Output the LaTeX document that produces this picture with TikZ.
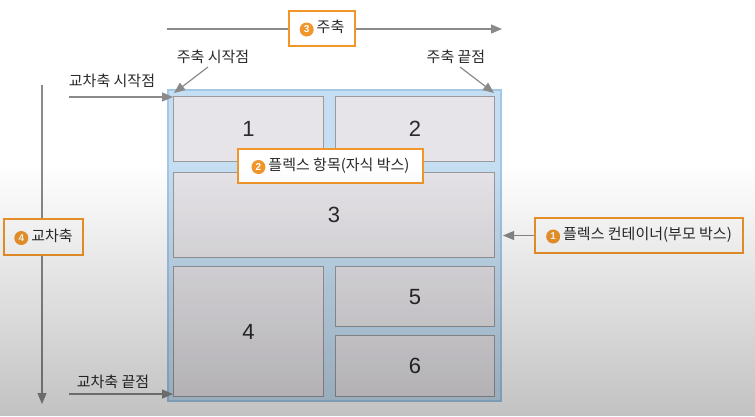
\documentclass[tikz,border=0pt]{standalone}
\usepackage{fontspec}
\setmainfont{Noto Sans CJK KR}
\newfontfamily\numfont{Liberation Sans}
\usetikzlibrary{arrows.meta,fadings}
\definecolor{txt}{HTML}{2A2A2A}
\definecolor{arr}{HTML}{8A8A8A}
\definecolor{org}{HTML}{F0962A}
\definecolor{cfill}{HTML}{C5DEF2}
\definecolor{cedge}{HTML}{A2C8E6}
\definecolor{bfill}{HTML}{E6E4E8}
\definecolor{bedge}{HTML}{9A9A9C}
\tikzfading[name=darkbottom, top color=transparent!100, bottom color=transparent!0]
\newcommand\numdot[1]{\tikz[baseline=(d.base)]\node[circle,fill=org,text=white,inner sep=0pt,minimum size=14pt,font=\fontsize{10}{10}\selectfont\bfseries\numfont](d){#1};\hspace{3pt}}
\tikzset{
  item/.style={draw=bedge, line width=1.1pt, fill=bfill, anchor=north west, inner sep=0pt, text=txt, font=\fontsize{22}{22}\selectfont\numfont},
  lbl/.style={draw=org, line width=1.8pt, fill=white, text=txt, font=\fontsize{15}{15}\selectfont, inner sep=0pt},
  note/.style={text=txt, font=\fontsize{15}{15}\selectfont, inner sep=0pt},
  pt/.style={-{Triangle[length=11pt,width=9pt]}, draw=arr, line width=1.2pt}
}
\begin{document}
\begin{tikzpicture}[x=1pt,y=-1pt]
\useasboundingbox (0,0) rectangle (755,416);
\fill[white] (0,0) rectangle (755,416);
% container
\node[draw=cedge, fill=cfill, line width=1.5pt, minimum width=333pt, minimum height=311pt, anchor=north west, inner sep=0pt] (cont) at (167,89) {};
% items
\node[item, minimum width=150pt, minimum height=65pt] (b1) at (173,96) {1};
\node[item, minimum width=159pt, minimum height=65pt] (b2) at (335,96) {2};
\node[item, minimum width=321pt, minimum height=85pt] (b3) at (173,172) {3};
\node[item, minimum width=150pt, minimum height=130pt] (b4) at (173,266) {4};
\node[item, minimum width=159pt, minimum height=60pt] (b5) at (335,266) {5};
\node[item, minimum width=159pt, minimum height=61pt] (b6) at (335,335) {6};
% axes
\coordinate (ma0) at (167,29);
\coordinate (ma1) at (502,29);
\draw[pt] (ma0) -- (ma1);
\coordinate (ca0) at (42,85);
\coordinate (ca1) at (42,404);
\draw[pt] (ca0) -- (ca1);
% notes
\node[note] (ms) at (213,57) {주축 시작점};
\node[note] (me) at (456,57) {주축 끝점};
\node[note] (cs) at (112,81) {교차축 시작점};
\node[note] (ce) at (113,382) {교차축 끝점};
\coordinate (ms0) at (208,67); \coordinate (ms1) at (174,93);
\coordinate (me0) at (460,67); \coordinate (me1) at (494,93);
\coordinate (cs0) at (69,97);  \coordinate (cs1) at (173,97);
\coordinate (ce0) at (69,394); \coordinate (ce1) at (173,394);
\coordinate (ct1) at (503,235.5);
\draw[pt] (ms0) -- (ms1);
\draw[pt] (me0) -- (me1);
\draw[pt] (cs0) -- (cs1);
\draw[pt] (ce0) -- (ce1);
% labels
\node[lbl, minimum width=66pt, minimum height=35pt] (l3) at (322,28.5) {\numdot{3}주축};
\node[lbl, minimum width=79pt, minimum height=36pt] (l4) at (43.5,237) {\numdot{4}교차축};
\node[lbl, minimum width=208pt, minimum height=35pt] (l1) at (639,235.5) {\numdot{1}플렉스 컨테이너(부모 박스)};
\node[lbl, minimum width=185pt, minimum height=34pt] (l2) at (330.5,166) {\numdot{2}플렉스 항목(자식 박스)};
\draw[pt] (l1.west) -- (ct1);
% screen dimming toward the bottom
\fill[black, opacity=0.24, path fading=darkbottom] (0,165) rectangle (755,416);
\end{tikzpicture}
\end{document}
